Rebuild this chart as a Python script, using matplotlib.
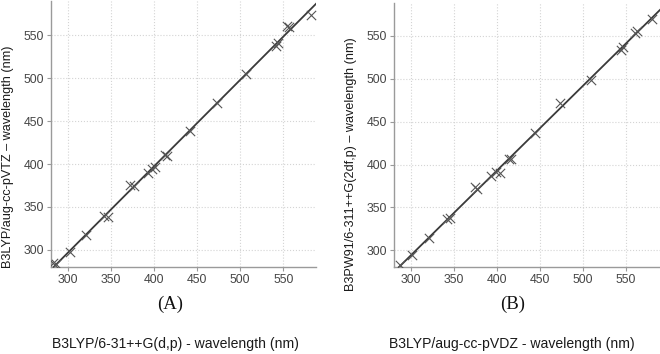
import numpy as np
import matplotlib.pyplot as plt

plt.rcParams['font.family'] = ['Liberation Sans', 'DejaVu Sans']

# panel A: B3LYP/6-31++G(d,p) vs B3LYP/aug-cc-pVTZ (nm)
a_x = [283, 286, 302, 321, 342, 347, 372, 377, 393, 398, 401, 413, 415,
       442, 473, 507, 541, 544, 554, 557, 582]
a_y = [285, 283, 297, 317, 340, 338, 375, 374, 390, 394, 397, 411, 409,
       439, 471, 505, 538, 541, 561, 560, 574]

# panel B: B3LYP/aug-cc-pVDZ vs B3PW91/6-311++G(2df,p) (nm)
b_x = [287, 301, 321, 342, 345, 374, 377, 393, 399, 403, 414, 416,
       444, 474, 510, 544, 547, 561, 563, 581]
b_y = [283, 294, 314, 336, 338, 374, 371, 387, 391, 390, 406, 407,
       437, 472, 499, 534, 537, 553, 556, 570]

panels = [
    dict(x=a_x, y=a_y, rect=[51/660, 87/354, 265/660, 266/354],
         xlim=(280.3, 588), ylim=(280, 590),
         ylabel="B3LYP/aug-cc-pVTZ \u2013 wavelength (nm)",
         xlabel="B3LYP/6-31++G(d,p) - wavelength (nm)",
         tag="(A)", tagx=170/660, ylx=8/660, yly=157/354, xlx=175/660),
    dict(x=b_x, y=b_y, rect=[394/660, 87/354, 266/660, 264/354],
         xlim=(280, 590), ylim=(280.5, 588.5),
         ylabel="B3PW91/6-311++G(2df,p) \u2013 wavelength (nm)",
         xlabel="B3LYP/aug-cc-pVDZ - wavelength (nm)",
         tag="(B)", tagx=513/660, ylx=351/660, yly=164/354, xlx=512/660),
]

fig = plt.figure(figsize=(6.6, 3.54), dpi=100)

for p in panels:
    ax = fig.add_axes(p["rect"])
    x = np.array(p["x"], dtype=float)
    y = np.array(p["y"], dtype=float)
    k, b = np.polyfit(x, y, 1)
    xs = np.array(p["xlim"])
    ax.plot(xs, k * xs + b, color="#3a3a3a", lw=1.3, zorder=3)
    ax.scatter(x, y, marker="x", s=45, color="#555555", linewidths=0.8, zorder=4)
    ax.set_xlim(*p["xlim"])
    ax.set_ylim(*p["ylim"])
    ax.set_xticks([300, 350, 400, 450, 500, 550])
    ax.set_yticks([300, 350, 400, 450, 500, 550])
    ax.grid(True, color="#d4d4d4", ls=":", lw=0.8)
    ax.set_axisbelow(True)
    for s in ["top", "right"]:
        ax.spines[s].set_visible(False)
    for s in ["left", "bottom"]:
        ax.spines[s].set_color("#9a9a9a")
        ax.spines[s].set_linewidth(1.0)
    ax.tick_params(colors="#9a9a9a", labelcolor="#454545", labelsize=8.8,
                   length=3, width=0.8, pad=2)
    ax.patch.set_alpha(0)
    fig.text(p["ylx"], 1 - p["yly"], p["ylabel"], rotation=90, ha="center",
             va="center", fontsize=9.1, color="#1a1a1a")
    fig.text(p["xlx"], 1 - 344/354, p["xlabel"], ha="center", va="center",
             fontsize=10.1, color="#1a1a1a")
    fig.text(p["tagx"], 1 - 304/354, p["tag"], ha="center", va="center",
             fontsize=13.5, family="Liberation Serif", color="#111111")

fig.savefig("out.png", dpi=100)
